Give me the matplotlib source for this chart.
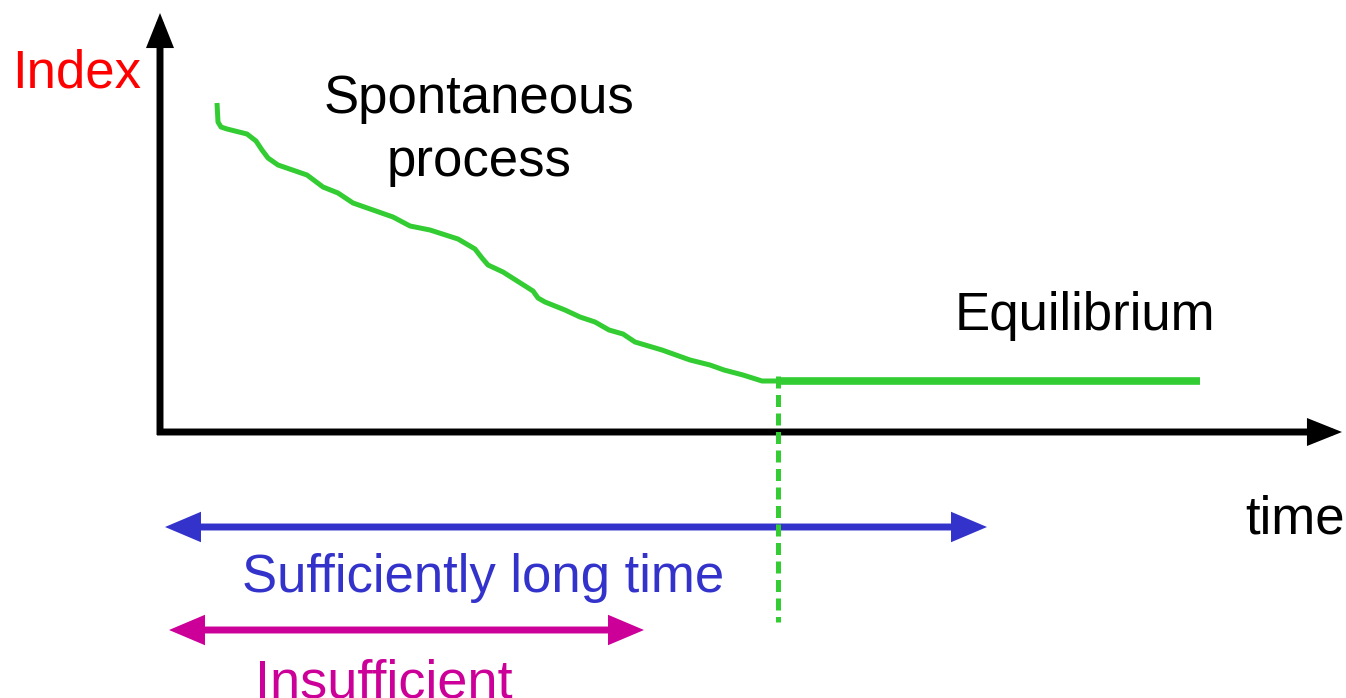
import matplotlib.pyplot as plt
from matplotlib.patches import FancyArrowPatch

plt.rcParams['font.family'] = ['Liberation Sans', 'DejaVu Sans']

# curve (pixel-like units, y grows downward)
curve_x = [217, 218, 221, 227, 247, 256, 262, 268, 278, 307, 323, 338, 353, 393, 410, 430,
           458, 475, 482, 488, 503, 533, 538, 545, 565, 580, 595, 609, 623, 635, 662, 690,
           710, 724, 743, 762, 776]
curve_y = [103, 122, 127, 129, 134, 141, 150, 158, 165, 175, 187, 193, 203, 217, 226, 230,
           239, 249, 258, 265, 272, 291, 298, 302, 310, 317, 322, 330, 334, 342, 350, 360,
           365, 370, 375, 381, 381]
eq_x = [776, 1200]
eq_y = [381, 381]
eq_time = 778

green = '#33CC33'
blue = '#3333CC'
magenta = '#CC0099'

fig = plt.figure(figsize=(13.46, 6.98), dpi=100)
ax = fig.add_axes([0, 0, 1, 1])
ax.set_xlim(0, 1346)
ax.set_ylim(698, 0)
ax.axis('off')

def arrow(x0, y0, x1, y1, color, style, lw, ms):
    a = FancyArrowPatch((x0, y0), (x1, y1), arrowstyle=style, color=color,
                        lw=lw, mutation_scale=ms, shrinkA=0, shrinkB=0,
                        joinstyle='miter', capstyle='butt')
    ax.add_patch(a)

# axes
arrow(160, 435, 160, 13, 'black', '-|>,head_length=0.4,head_width=0.16', 5, 40)
arrow(157, 432, 1342, 432, 'black', '-|>,head_length=0.4,head_width=0.16', 5, 40)

# curve
ax.plot(curve_x, curve_y, color=green, lw=3.6, solid_capstyle='butt',
        solid_joinstyle='round')
ax.plot(eq_x, eq_y, color=green, lw=5.5, solid_capstyle='butt')
ax.plot([eq_time, eq_time], [376, 622], color=green, lw=3.6, dashes=(2.4, 1.3))

# time spans
arrow(165, 527, 987, 527, blue, '<|-|>,head_length=0.85,head_width=0.36', 5, 20)
arrow(169, 630, 644, 630, magenta, '<|-|>,head_length=0.85,head_width=0.36', 5, 20)

fs = 38
ax.text(12, 87, 'Index', color='red', fontsize=fs, va='baseline', ha='left')
ax.text(479, 113, 'Spontaneous', fontsize=fs, va='baseline', ha='center')
ax.text(479, 176, 'process', fontsize=fs, va='baseline', ha='center')
ax.text(955, 330, 'Equilibrium', fontsize=fs, va='baseline', ha='left')
ax.text(1245, 534, 'time', fontsize=fs, va='baseline', ha='left')
ax.text(242, 592, 'Sufficiently long time', color=blue, fontsize=fs,
        va='baseline', ha='left')
ax.text(255, 697, 'Insufficient', color=magenta, fontsize=39,
        va='baseline', ha='left')

plt.savefig('out.png', dpi=100)
